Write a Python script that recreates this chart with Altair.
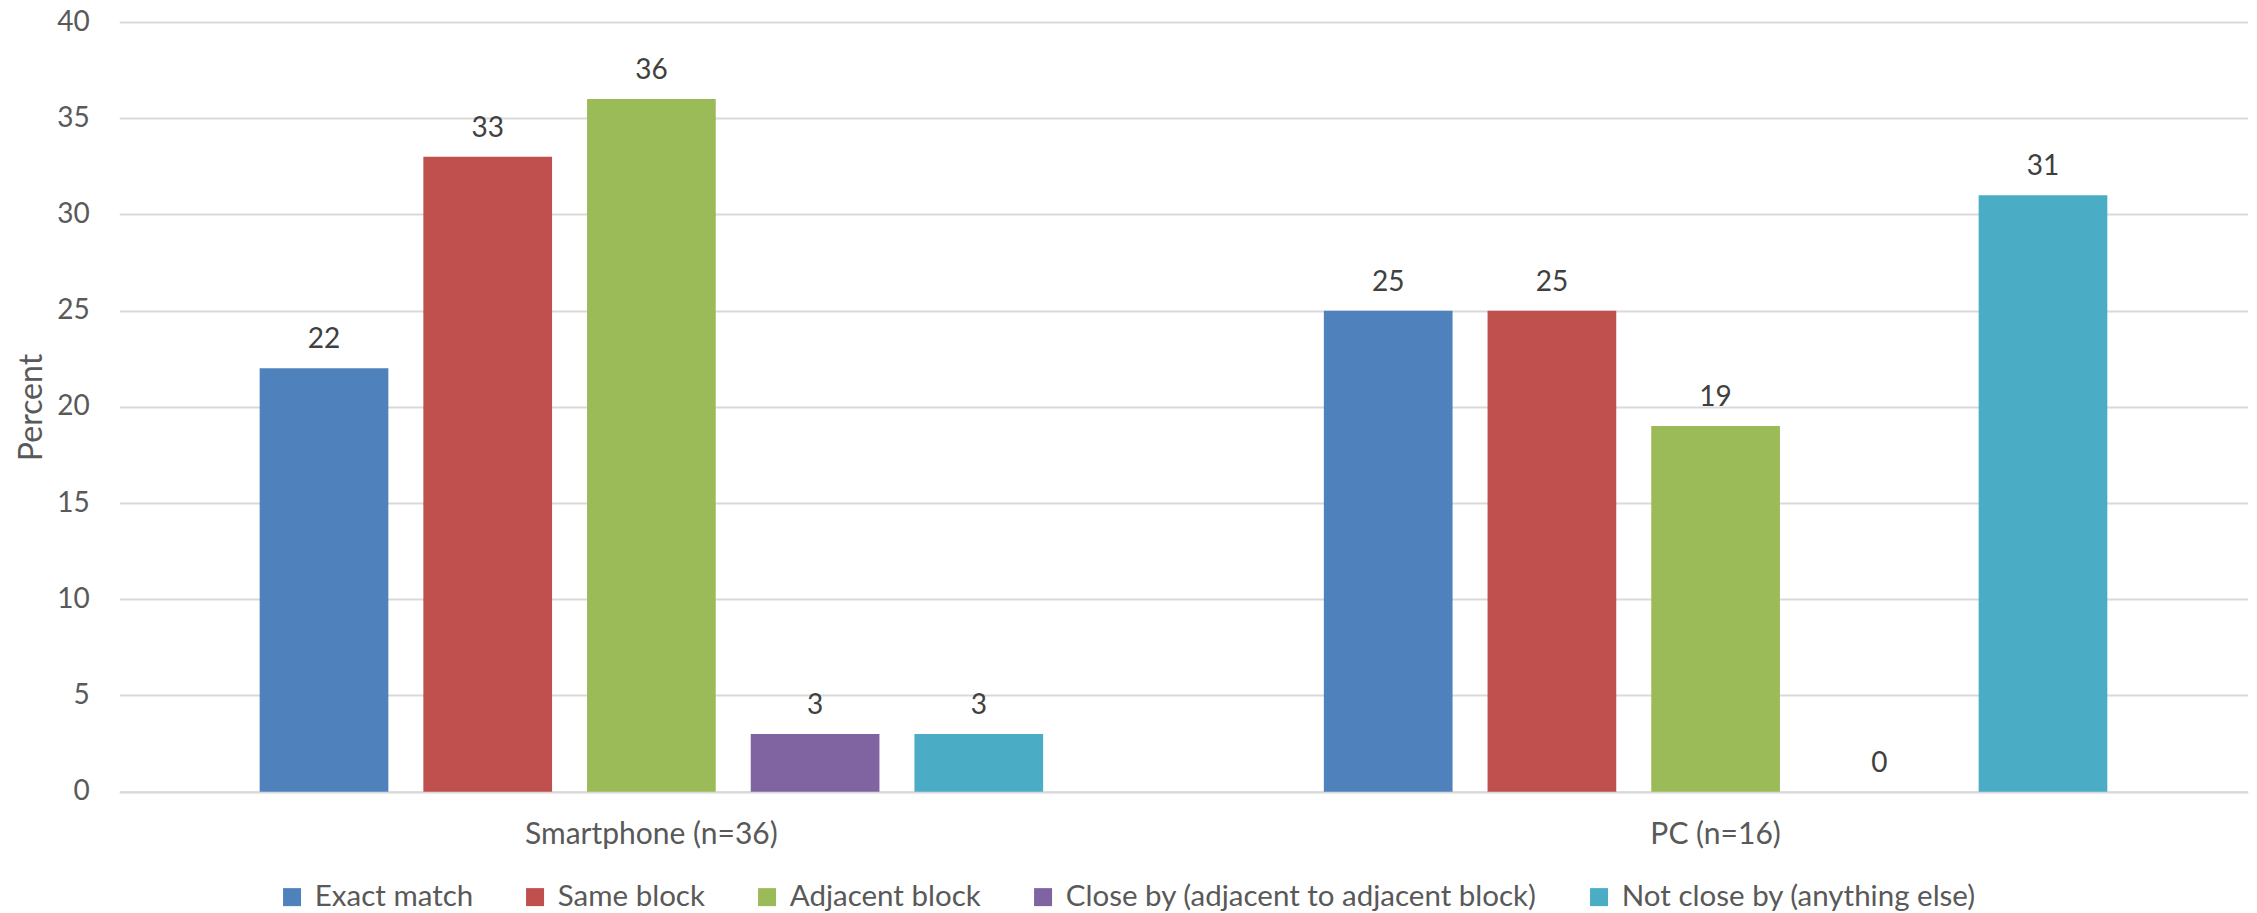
import altair as alt
import pandas as pd

# Share of location estimates by accuracy class, per device type
devices = ["Smartphone (n=36)", "PC (n=16)"]
categories = [
    "Exact match",
    "Same block",
    "Adjacent block",
    "Close by (adjacent to adjacent block)",
    "Not close by (anything else)",
]
smartphone_pct = [22, 33, 36, 3, 3]
pc_pct = [25, 25, 19, 0, 31]
colors = ["#4F81BD", "#C0504D", "#9BBB59", "#8064A2", "#4BACC6"]
y_ticks = [0, 5, 10, 15, 20, 25, 30, 35, 40]

rows = []
for device, values in zip(devices, [smartphone_pct, pc_pct]):
    for cat, v in zip(categories, values):
        rows.append({"device": device, "category": cat, "percent": v})
df = pd.DataFrame(rows)

FONT = "Lato"
LABEL_GREY = "#595959"
GRID_GREY = "#d9d9d9"

x_enc = alt.X(
    "device:N",
    sort=devices,
    title=None,
    scale=alt.Scale(paddingInner=0.2309, paddingOuter=0.11545),
    axis=alt.Axis(
        labelAngle=0,
        labelFont=FONT,
        labelFontSize=30,
        labelColor=LABEL_GREY,
        labelPadding=28,
        labelBaseline="top",
        labelLimit=1000,
        ticks=False,
        domain=True,
        domainColor=GRID_GREY,
        domainWidth=2,
        grid=False,
    ),
)
xoff_enc = alt.XOffset(
    "category:N",
    sort=categories,
    scale=alt.Scale(paddingInner=0.2138, paddingOuter=0.1069),
)
y_enc = alt.Y(
    "percent:Q",
    scale=alt.Scale(domain=[0, 40], nice=False),
    axis=alt.Axis(
        values=y_ticks,
        title="Percent",
        titleFont=FONT,
        titleFontSize=32,
        titleFontWeight="normal",
        titleColor=LABEL_GREY,
        titleAngle=-90,
        titleBaseline="alphabetic",
        titleAlign="center",
        titleX=-78,
        titleY=385,
        labelFont=FONT,
        labelFontSize=28,
        labelColor=LABEL_GREY,
        labelPadding=30,
        ticks=False,
        domain=False,
        grid=True,
        gridColor=GRID_GREY,
        gridWidth=2,
    ),
)

base = alt.Chart(df).encode(x=x_enc, xOffset=xoff_enc, y=y_enc)

bars = base.mark_bar().encode(
    color=alt.Color(
        "category:N",
        sort=categories,
        scale=alt.Scale(domain=categories, range=colors),
        legend=alt.Legend(
            orient="none",
            legendX=158,
            legendY=860,
            direction="horizontal",
            columns=5,
            title=None,
            symbolType="square",
            symbolSize=324,
            symbolStrokeWidth=0,
            symbolOpacity=1,
            labelFont=FONT,
            labelFontSize=29.5,
            labelColor=LABEL_GREY,
            labelOffset=8,
            labelLimit=1000,
            columnPadding=47,
            padding=0,
        ),
    )
)

labels = base.mark_text(
    dy=-20,
    baseline="alphabetic",
    font=FONT,
    fontSize=28,
    color="#404040",
).encode(text="percent:Q")

chart = (
    (bars + labels)
    .properties(
        width=2128.4,
        height=769.7,
        autosize=alt.AutoSizeParams(type="none"),
        padding={"left": 119.3, "top": 22, "right": 9.3, "bottom": 121.3},
        background="white",
    )
    .configure_view(stroke=None)
)

chart.save("out.html", embed_options={"renderer": "svg", "actions": False})
